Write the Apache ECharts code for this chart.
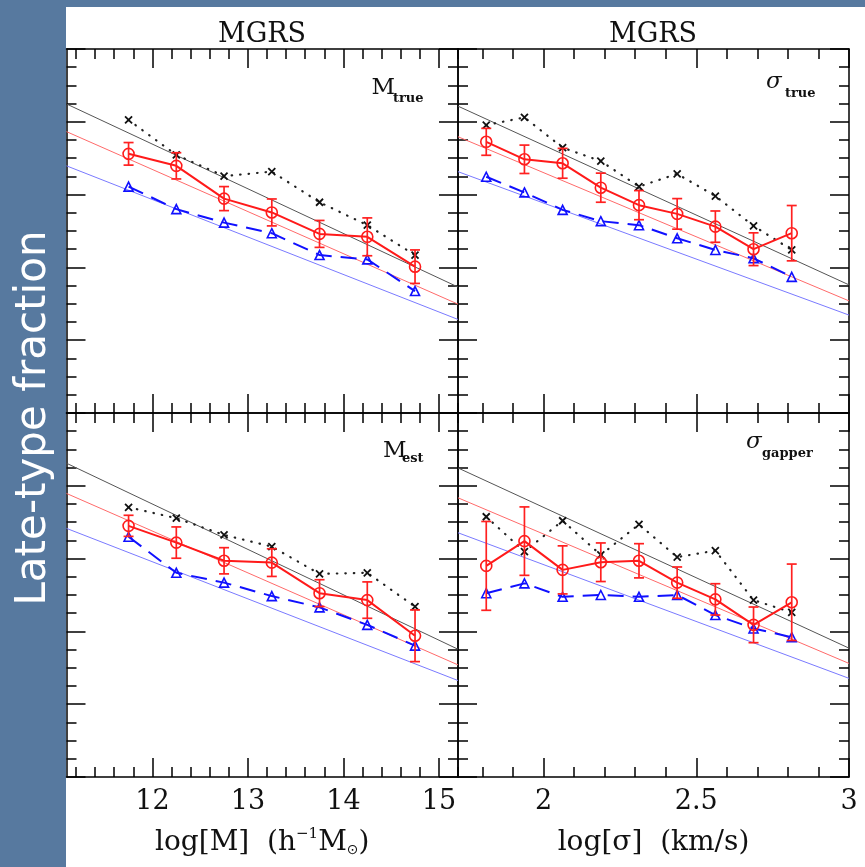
<!DOCTYPE html>
<html><head><meta charset="utf-8">
<script src="https://cdn.jsdelivr.net/npm/echarts@6/dist/echarts.min.js"></script>
<style>html,body{margin:0;padding:0;background:#57799f;}#c{width:865px;height:867px;}</style>
</head><body><div id="c"></div>
<script>
// ---- data ----
const massX = [11.75, 12.25, 12.75, 13.25, 13.75, 14.25, 14.75];
const sigmaX = [1.8125, 1.9375, 2.0625, 2.1875, 2.3125, 2.4375, 2.5625, 2.6875, 2.8125];
const massTicks = [12, 13, 14, 15];
const sigmaTicks = [2, 2.5, 3];
const massRange = [11.1, 15.2];
const sigmaRange = [1.72, 3.0];

const mTrueCross  = [0.805, 0.709, 0.651, 0.663, 0.579, 0.516, 0.434];
const mTrueCircle = [0.712, 0.679, 0.589, 0.551, 0.492, 0.484, 0.402];
const mTrueErr    = [0.031, 0.036, 0.033, 0.037, 0.037, 0.052, 0.046];
const mTrueTri    = [0.622, 0.560, 0.523, 0.494, 0.434, 0.422, 0.335];
const mTrueFitBlack = [0.849, 0.346];
const mTrueFitRed   = [0.773, 0.299];
const mTrueFitBlue  = [0.679, 0.257];

const sTrueCross  = [0.791, 0.812, 0.729, 0.692, 0.622, 0.657, 0.596, 0.514, 0.448];
const sTrueCircle = [0.745, 0.697, 0.686, 0.619, 0.571, 0.547, 0.512, 0.450, 0.494];
const sTrueErr    = [0.037, 0.039, 0.041, 0.040, 0.040, 0.042, 0.043, 0.045, 0.076];
const sTrueTri    = [0.649, 0.606, 0.558, 0.527, 0.516, 0.480, 0.448, 0.425, 0.374];
const sTrueFitBlack = [0.843, 0.352];
const sTrueFitRed   = [0.759, 0.308];
const sTrueFitBlue  = [0.663, 0.269];

const mEstCross  = [0.741, 0.711, 0.665, 0.633, 0.558, 0.561, 0.468];
const mEstCircle = [0.690, 0.644, 0.594, 0.589, 0.505, 0.486, 0.388];
const mEstErr    = [0.029, 0.043, 0.036, 0.038, 0.037, 0.050, 0.071];
const mEstTri    = [0.660, 0.561, 0.534, 0.497, 0.466, 0.418, 0.361];
const mEstFitBlack = [0.862, 0.351];
const mEstFitRed   = [0.779, 0.308];
const mEstFitBlue  = [0.683, 0.265];

const sGapCross  = [0.715, 0.619, 0.704, 0.610, 0.694, 0.604, 0.622, 0.486, 0.452];
const sGapCircle = [0.580, 0.648, 0.569, 0.590, 0.594, 0.534, 0.488, 0.418, 0.480];
const sGapErr    = [0.122, 0.094, 0.066, 0.053, 0.047, 0.043, 0.043, 0.049, 0.105];
const sGapTri    = [0.505, 0.532, 0.495, 0.500, 0.495, 0.500, 0.445, 0.408, 0.384];
const sGapFitBlack = [0.849, 0.354];
const sGapFitRed   = [0.767, 0.312];
const sGapFitBlue  = [0.671, 0.271];

// ---- layout ----
const rects = [
  {left: 66.5, top: 49, width: 391.5, height: 364},
  {left: 458, top: 49, width: 391, height: 364},
  {left: 66.5, top: 413, width: 391.5, height: 364},
  {left: 458, top: 413, width: 391, height: 364}
];
const serif = 'DejaVu Serif';
const massName = '{n|log[M]  (h}{sup|−1}{n|M}{sub|⊙}{n|)}';
const sigmaName = '{n|log[σ]  (km/s)}';
const panels = [
  {x: massX, range: massRange, majors: massTicks, step: 0.2, labels: false, name: '',
   cross: mTrueCross, circle: mTrueCircle, err: mTrueErr, tri: mTrueTri, fb: mTrueFitBlack, fr: mTrueFitRed, fbl: mTrueFitBlue},
  {x: sigmaX, range: sigmaRange, majors: sigmaTicks, step: 0.1, labels: false, name: '',
   cross: sTrueCross, circle: sTrueCircle, err: sTrueErr, tri: sTrueTri, fb: sTrueFitBlack, fr: sTrueFitRed, fbl: sTrueFitBlue},
  {x: massX, range: massRange, majors: massTicks, step: 0.2, labels: true, name: massName,
   cross: mEstCross, circle: mEstCircle, err: mEstErr, tri: mEstTri, fb: mEstFitBlack, fr: mEstFitRed, fbl: mEstFitBlue},
  {x: sigmaX, range: sigmaRange, majors: sigmaTicks, step: 0.1, labels: true, name: sigmaName,
   cross: sGapCross, circle: sGapCircle, err: sGapErr, tri: sGapTri, fb: sGapFitBlack, fr: sGapFitRed, fbl: sGapFitBlue}
];

const lineCol = '#000';
const grid = [], xAxis = [], yAxis = [], series = [];
rects.forEach(r => grid.push(Object.assign({containLabel: false}, r)));
rects.forEach(r => grid.push(Object.assign({containLabel: false}, r)));

const nameRich = {
  n: {fontFamily: serif, fontSize: 28, color: '#111', lineHeight: 34, verticalAlign: 'bottom'},
  sup: {fontFamily: serif, fontSize: 15, color: '#111', lineHeight: 34, verticalAlign: 'top', padding: [4, 0, 0, 0]},
  sub: {fontFamily: 'DejaVu Sans', fontSize: 14, color: '#111', lineHeight: 34, verticalAlign: 'bottom'}
};

// main axes
panels.forEach((p, g) => {
  ['bottom', 'top'].forEach(pos => {
    const showLab = pos === 'bottom' && p.labels;
    xAxis.push({
      type: 'value', gridIndex: g, position: pos, min: p.range[0], max: p.range[1],
      axisLine: {show: true, onZero: false, lineStyle: {color: lineCol, width: 1.5}},
      axisTick: {show: true, inside: true, length: 19, customValues: p.majors, lineStyle: {color: lineCol, width: 1.5}},
      axisLabel: {show: showLab, customValues: p.majors, margin: 11, color: '#111', fontFamily: serif, fontSize: 27},
      splitLine: {show: false},
      name: showLab ? p.name : '', nameLocation: 'middle', nameGap: 46,
      nameTextStyle: {rich: nameRich, fontFamily: serif, fontSize: 28, color: '#111'}
    });
  });
  ['left', 'right'].forEach(pos => {
    yAxis.push({
      type: 'value', gridIndex: g, position: pos, min: 0, max: 1, interval: 0.2,
      axisLine: {show: true, onZero: false, lineStyle: {color: lineCol, width: 1.5}},
      axisTick: {show: true, inside: true, length: 19, lineStyle: {color: lineCol, width: 1.5}},
      minorTick: {show: true, splitNumber: 4, length: 10, lineStyle: {color: lineCol, width: 1.5}},
      axisLabel: {show: false}, splitLine: {show: false}, minorSplitLine: {show: false}
    });
  });
});
// overlay axes for minor x ticks
panels.forEach((p, g) => {
  const minors = [];
  for (let k = Math.ceil(p.range[0] / p.step - 1e-9); k * p.step <= p.range[1] + 1e-9; k++) {
    const v = +(k * p.step).toFixed(4);
    if (!p.majors.some(m => Math.abs(m - v) < 1e-6)) minors.push(v);
  }
  ['bottom', 'top'].forEach(pos => {
    xAxis.push({
      type: 'value', gridIndex: g + 4, position: pos, min: p.range[0], max: p.range[1],
      axisLine: {show: false, onZero: false},
      axisTick: {show: true, inside: true, length: 10, customValues: minors, lineStyle: {color: lineCol, width: 1.5}},
      axisLabel: {show: false}, splitLine: {show: false}
    });
  });
  yAxis.push({type: 'value', gridIndex: g + 4, min: 0, max: 1, show: false});
});

// series
panels.forEach((p, g) => {
  const xi = 2 * g, yi = 2 * g;
  const base = {xAxisIndex: xi, yAxisIndex: yi, silent: true, animation: false};
  const fit = (vals, color) => Object.assign({}, base, {
    type: 'line', data: [[p.range[0], vals[0]], [p.range[1], vals[1]]], symbol: 'none', clip: true, z: 1,
    lineStyle: {color: color, width: 1}
  });
  series.push(fit(p.fb, '#555555'));
  series.push(fit(p.fr, '#ff6a6a'));
  series.push(fit(p.fbl, '#7a7aff'));
  series.push(Object.assign({}, base, {
    type: 'line', data: p.x.map((x, i) => [x, p.cross[i]]), z: 3,
    symbol: 'path://M0,0L10,10M0,10L10,0', symbolSize: 7,
    itemStyle: {color: 'rgba(0,0,0,0)', borderColor: '#111', borderWidth: 1.8},
    lineStyle: {color: '#222', width: 2.2, type: [0.5, 8], cap: 'round'}
  }));
  series.push(Object.assign({}, base, {
    type: 'line', data: p.x.map((x, i) => [x, p.tri[i]]), z: 3,
    symbol: 'triangle', symbolSize: 9,
    itemStyle: {color: 'rgba(0,0,0,0)', borderColor: '#1010ff', borderWidth: 1.6},
    lineStyle: {color: '#1010ff', width: 2, type: [16, 9]}
  }));
  series.push(Object.assign({}, base, {
    type: 'line', data: p.x.map((x, i) => [x, p.circle[i]]), z: 4,
    symbol: 'circle', symbolSize: 11,
    itemStyle: {color: 'rgba(0,0,0,0)', borderColor: '#ff1a1a', borderWidth: 1.6},
    lineStyle: {color: '#ff1a1a', width: 2}
  }));
  series.push(Object.assign({}, base, {
    type: 'custom', z: 5, clip: true,
    data: p.x.map((x, i) => [x, p.circle[i], p.err[i]]),
    encode: {x: 0, y: 1},
    renderItem: (params, api) => {
      const x = api.value(0), y = api.value(1), e = api.value(2);
      const lo = api.coord([x, y - e]), hi = api.coord([x, y + e]);
      const st = {stroke: '#ff2020', lineWidth: 1.7};
      const w = 5;
      return {type: 'group', children: [
        {type: 'line', shape: {x1: lo[0], y1: lo[1], x2: hi[0], y2: hi[1]}, style: st},
        {type: 'line', shape: {x1: lo[0] - w, y1: lo[1], x2: lo[0] + w, y2: lo[1]}, style: st},
        {type: 'line', shape: {x1: hi[0] - w, y1: hi[1], x2: hi[0] + w, y2: hi[1]}, style: st}
      ]};
    }
  }));
});

const txt = (text, x, y, font, extra) => ({
  type: 'text', x: x, y: y, silent: true, z: 100,
  style: Object.assign({text: text, font: font, fill: '#111', textAlign: 'left', textVerticalAlign: 'middle'}, extra || {})
});
const subFont = 'bold 13px "DejaVu Serif"';
const graphic = [
  {type: 'rect', shape: {x: 66, y: 7, width: 799, height: 860}, style: {fill: '#fff'}, z: -10, silent: true},
  txt('MGRS', 262, 35, '27px "DejaVu Serif"', {textAlign: 'center'}),
  txt('MGRS', 653, 35, '27px "DejaVu Serif"', {textAlign: 'center'}),
  txt('M', 371.5, 88, '23px "DejaVu Serif"'),
  txt('true', 393, 99, subFont),
  txt('M', 383, 451, '23px "DejaVu Serif"'),
  txt('est', 402, 458.5, subFont),
  txt('σ', 766, 82, 'italic 23px "DejaVu Serif"'),
  txt('true', 785, 93.5, subFont),
  txt('σ', 746, 442, 'italic 23px "DejaVu Serif"'),
  txt('gapper', 762, 453.5, subFont),
  {type: 'text', x: 34, y: 418, rotation: Math.PI / 2, silent: true, z: 100,
   style: {text: 'Late-type fraction', font: '42px "DejaVu Sans"', fill: '#fff', textAlign: 'center', textVerticalAlign: 'middle'}}
];

const chart = echarts.init(document.getElementById('c'), null, {renderer: 'canvas'});
chart.setOption({
  backgroundColor: '#57799f',
  animation: false,
  grid: grid, xAxis: xAxis, yAxis: yAxis, series: series, graphic: graphic
});
</script></body></html>
